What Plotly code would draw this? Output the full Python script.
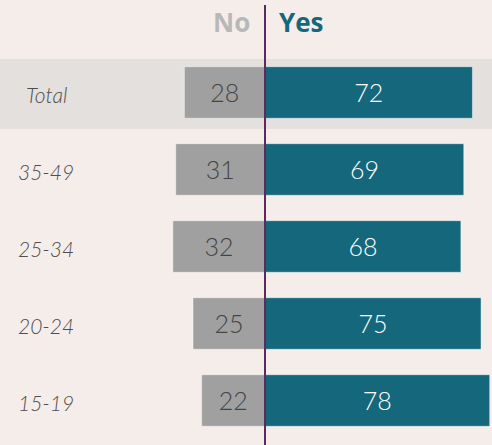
import plotly.graph_objects as go

# Data
groups = ["Total", "35-49", "25-34", "20-24", "15-19"]
no_vals = [28, 31, 32, 25, 22]
yes_vals = [72, 69, 68, 75, 78]
series_names = ["No", "Yes"]

TEAL = "#15677B"
GREY = "#A0A0A0"
BG = "#F5EDEA"

fig = go.Figure()

fig.add_trace(go.Bar(
    y=groups,
    x=[-v for v in no_vals],
    orientation="h",
    name=series_names[0],
    text=[str(v) for v in no_vals],
    textposition="inside",
    insidetextanchor="middle",
    textfont=dict(family="Lato", size=25, color="#444444", weight=300),
    marker=dict(color=GREY, line=dict(color="rgba(255,255,255,0.45)", width=1)),
    width=0.67,
    hoverinfo="skip",
))

fig.add_trace(go.Bar(
    y=groups,
    x=yes_vals,
    orientation="h",
    name=series_names[1],
    text=[str(v) for v in yes_vals],
    textposition="inside",
    insidetextanchor="middle",
    textfont=dict(family="Lato", size=25, color="white", weight=300),
    marker=dict(color=TEAL, line=dict(color="rgba(255,255,255,0.45)", width=1)),
    width=0.67,
    hoverinfo="skip",
))

# highlighted band behind the Total row
fig.add_shape(type="rect", xref="paper", yref="y", x0=0, x1=1, y0=-0.435, y1=0.474,
              fillcolor="#E4E0DD", line=dict(width=0), layer="below")

# centre divider
fig.add_shape(type="line", xref="x", yref="paper", x0=0, x1=0, y0=0, y1=0.989,
              line=dict(color="#5A2A5E", width=2), layer="above")

# column headers
fig.add_annotation(x=0, y=0.95, xref="x", yref="paper", text="<b>No</b>", showarrow=False,
                   xanchor="right", yanchor="middle", xshift=-13,
                   font=dict(family="Open Sans", size=26, color="#B8B8B8"))
fig.add_annotation(x=0, y=0.95, xref="x", yref="paper", text="<b>Yes</b>", showarrow=False,
                   xanchor="left", yanchor="middle", xshift=12,
                   font=dict(family="Open Sans", size=26, color=TEAL))

# row labels
for g in groups:
    fig.add_annotation(x=0.094, y=g, xref="paper", yref="y", text=g, showarrow=False,
                       xanchor="center", yshift=-2,
                       font=dict(family="Lato", size=21, color="#4e4e4e", style="italic", weight=300))

fig.update_layout(
    width=492, height=445,
    margin=dict(l=0, r=0, t=0, b=0),
    paper_bgcolor=BG, plot_bgcolor=BG,
    barmode="relative",
    bargap=0.33,
    showlegend=False,
    xaxis=dict(range=[-92, 78.8], visible=False, fixedrange=True),
    yaxis=dict(range=[4.578, -1.201], showticklabels=False, showgrid=False, zeroline=False,
               fixedrange=True, categoryorder="array", categoryarray=groups),
)

fig.write_html("out.html", config={"displayModeBar": False},
               post_script="document.body.style.margin='0';document.body.style.overflow='hidden';")
